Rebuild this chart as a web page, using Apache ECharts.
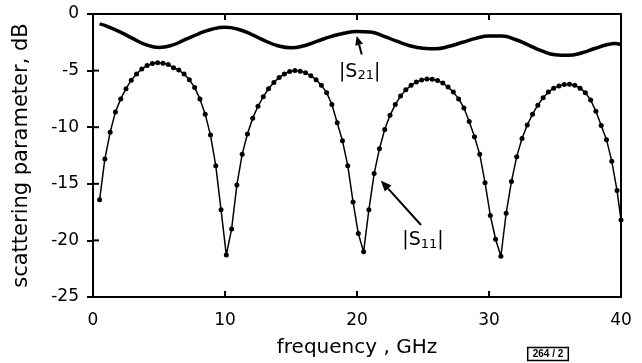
<!DOCTYPE html>
<html>
<head>
<meta charset="utf-8">
<script src="https://cdn.jsdelivr.net/npm/echarts@6/dist/echarts.min.js"></script>
<style>
html,body{margin:0;padding:0;background:#fff;}
#c{width:642px;height:363px;}
</style>
</head>
<body>
<div id="c"></div>
<script>
// ---- data ----
var xTicks = [0, 10, 20, 30, 40];
var yTicks = [-25, -20, -15, -10, -5, 0];

var s11Freq = [0.5,0.9,1.3,1.7,2.1,2.5,2.9,3.3,3.7,4.1,4.5,4.9,5.3,5.7,6.1,6.5,6.9,7.3,7.7,8.1,
  8.5,8.9,9.3,9.7,10.1,10.5,10.9,11.3,11.7,12.1,12.5,12.9,13.3,13.7,14.1,14.5,14.9,15.3,15.7,16.1,
  16.5,16.9,17.3,17.7,18.1,18.5,18.9,19.3,19.7,20.1,20.5,20.9,21.3,21.7,22.1,22.5,22.9,23.3,23.7,24.1,
  24.5,24.9,25.3,25.7,26.1,26.5,26.9,27.3,27.7,28.1,28.5,28.9,29.3,29.7,30.1,30.5,30.9,31.3,31.7,32.1,
  32.5,32.9,33.3,33.7,34.1,34.5,34.9,35.3,35.7,36.1,36.5,36.9,37.3,37.7,38.1,38.5,38.9,39.3,39.7,40.0];
var s11 = [-16.4,-12.8,-10.45,-8.65,-7.5,-6.6,-5.85,-5.3,-4.85,-4.55,-4.38,-4.3,-4.35,-4.47,-4.74,-4.95,-5.3,-5.8,-6.5,-7.5,
  -8.85,-10.7,-13.4,-17.3,-21.3,-19.0,-15.1,-12.4,-10.6,-9.2,-8.15,-7.3,-6.6,-6.05,-5.6,-5.3,-5.08,-5.0,-5.05,-5.2,
  -5.45,-5.8,-6.3,-6.95,-8.0,-9.6,-11.2,-13.4,-16.6,-19.4,-21.0,-17.3,-14.1,-11.9,-10.2,-8.95,-8.0,-7.25,-6.7,-6.3,
  -6.0,-5.82,-5.75,-5.77,-5.88,-6.1,-6.45,-6.9,-7.5,-8.3,-9.5,-10.85,-12.4,-14.9,-17.8,-19.9,-21.4,-17.6,-14.8,-12.6,
  -11.0,-9.8,-8.85,-8.05,-7.4,-6.9,-6.55,-6.35,-6.22,-6.2,-6.3,-6.55,-6.95,-7.6,-8.6,-9.85,-11.1,-13.0,-15.6,-18.2];

var s21Freq = [0.5,1,2,3,4,5,6,7,8,9,10,11,12,13,14,15,16,17,18,19,20,21,22,23,24,25,26,27,28,29,30,31,32,33,34,35,36,37,38,39,39.5,40];
var s21 = [-0.87,-1.05,-1.55,-2.15,-2.7,-2.95,-2.75,-2.25,-1.75,-1.35,-1.18,-1.35,-1.8,-2.35,-2.8,-2.98,-2.8,-2.4,-2.0,-1.7,-1.55,-1.6,-1.95,-2.4,-2.8,-3.02,-3.07,-2.85,-2.5,-2.15,-1.95,-1.95,-2.25,-2.75,-3.25,-3.6,-3.65,-3.45,-3.05,-2.7,-2.6,-2.7];

var xName = 'frequency , GHz';
var yName = 'scattering parameter, dB';

// ---- chart ----
var FONT = 'DejaVu Sans';
var chart = echarts.init(document.getElementById('c'), null, {renderer: 'canvas'});
var option = {
  animation: false,
  backgroundColor: '#fff',
  grid: {left: 93, right: 21, top: 14, bottom: 62, show: true, borderColor: '#000', borderWidth: 2},
  xAxis: {
    type: 'value', min: 0, max: 40, interval: 10,
    name: xName, nameLocation: 'middle', nameGap: 41,
    nameTextStyle: {fontFamily: FONT, fontSize: 20, color: '#000'},
    axisLine: {show: true, lineStyle: {color: '#000', width: 2}},
    axisTick: {show: true, length: 6, lineStyle: {color: '#000', width: 2}},
    axisLabel: {fontFamily: FONT, fontSize: 17, color: '#000', margin: 15},
    splitLine: {show: false}
  },
  yAxis: {
    type: 'value', min: -25, max: 0, interval: 5,
    name: yName, nameLocation: 'middle', nameGap: 61,
    nameTextStyle: {fontFamily: FONT, fontSize: 21, color: '#000'},
    axisLine: {show: true, lineStyle: {color: '#000', width: 2}},
    axisTick: {show: true, length: 6, lineStyle: {color: '#000', width: 2}},
    axisLabel: {fontFamily: FONT, fontSize: 17, color: '#000', margin: 14},
    splitLine: {show: false}
  },
  series: [
    {
      name: '|S11|', type: 'line',
      data: s11Freq.map(function (f, i) { return [f, s11[i]]; }),
      symbol: 'circle', symbolSize: 5, showSymbol: true,
      lineStyle: {color: '#000', width: 1.5},
      itemStyle: {color: '#000'}
    },
    {
      name: '|S21|', type: 'line', smooth: true,
      data: s21Freq.map(function (f, i) { return [f, s21[i]]; }),
      symbol: 'none',
      lineStyle: {color: '#000', width: 3.5}
    }
  ]
};
chart.setOption(option);

function px(x, y) { return chart.convertToPixel({gridIndex: 0}, [x, y]); }
function arrow(from, to, headLen, headW) {
  var a = px(from[0], from[1]), b = px(to[0], to[1]);
  var dx = b[0] - a[0], dy = b[1] - a[1], L = Math.sqrt(dx * dx + dy * dy);
  var ux = dx / L, uy = dy / L;
  var bx = b[0] - ux * headLen, by = b[1] - uy * headLen;
  return [
    {type: 'line', shape: {x1: a[0], y1: a[1], x2: bx, y2: by}, style: {stroke: '#000', lineWidth: 2}},
    {type: 'polygon', shape: {points: [[b[0], b[1]], [bx - uy * headW, by + ux * headW], [bx + uy * headW, by - ux * headW]]},
     style: {fill: '#000'}}
  ];
}
function label(at, sub) {
  var p = px(at[0], at[1]);
  return {
    type: 'text', x: p[0], y: p[1],
    style: {
      text: '{a||S}{s|' + sub + '}{a||}',
      align: 'center', verticalAlign: 'middle',
      rich: {
        a: {fontFamily: FONT, fontSize: 19, fill: '#000', color: '#000'},
        s: {fontFamily: FONT, fontSize: 13, fill: '#000', color: '#000', padding: [8, 0, 0, 0]}
      }
    }
  };
}
var g = [];
// inner halves of the axis ticks
xTicks.forEach(function (v) {
  var p = px(v, -25);
  g.push({type: 'line', shape: {x1: p[0], y1: p[1], x2: p[0], y2: p[1] - 6}, style: {stroke: '#000', lineWidth: 2}});
});
yTicks.forEach(function (v) {
  var p = px(0, v);
  g.push({type: 'line', shape: {x1: p[0], y1: p[1], x2: p[0] + 6, y2: p[1]}, style: {stroke: '#000', lineWidth: 2}});
});
g = g.concat(arrow([20.36, -3.57], [19.98, -1.95], 9, 4));
g = g.concat(arrow([24.85, -18.64], [21.8, -14.7], 11, 4.5));
g.push(label([20.2, -5.1], '21'));
g.push(label([25.0, -20.0], '11'));
g.push({
  type: 'text', x: 548, y: 354,
  style: {
    text: '264 / 2', align: 'center', verticalAlign: 'middle',
    fontFamily: 'Liberation Sans Narrow, Liberation Sans', fontSize: 10, fontWeight: 'bold', fill: '#000',
    borderColor: '#000', borderWidth: 1.5, padding: [2, 5, 1, 5]
  }
});
chart.setOption({graphic: g});
</script>
</body>
</html>
